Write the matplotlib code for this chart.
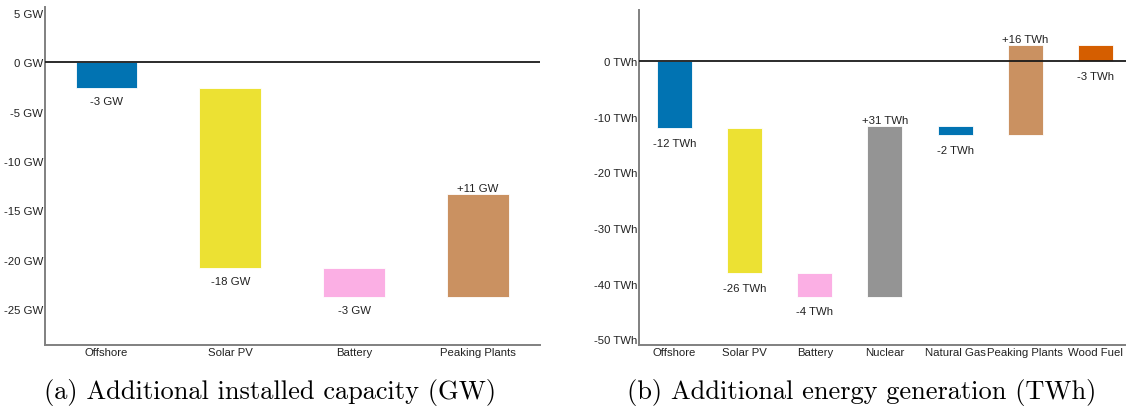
import matplotlib
matplotlib.use("Agg")
import matplotlib.pyplot as plt
import numpy as np

# ---------------- data ----------------
cap_categories = ["Offshore", "Solar PV", "Battery", "Peaking Plants"]
cap_changes = [-2.6, -18.2, -3.0, 10.5]
cap_labels = ["-3 GW", "-18 GW", "-3 GW", "+11 GW"]
cap_colors = ["#0173B2", "#ECE133", "#FBAFE4", "#CA9161"]
cap_yticks = [5, 0, -5, -10, -15, -20, -25]
cap_yticklabels = ["5 GW", "0 GW", "-5 GW", "-10 GW", "-15 GW", "-20 GW", "-25 GW"]

gen_categories = ["Offshore", "Solar PV", "Battery", "Nuclear", "Natural Gas",
                  "Peaking Plants", "Wood Fuel"]
gen_changes = [-12.1, -26.0, -4.3, 30.7, -1.6, 16.2, -2.9]
gen_labels = ["-12 TWh", "-26 TWh", "-4 TWh", "+31 TWh", "-2 TWh", "+16 TWh", "-3 TWh"]
gen_colors = ["#0173B2", "#ECE133", "#FBAFE4", "#949494", "#0173B2", "#CA9161", "#D55E00"]
gen_yticks = [0, -10, -20, -30, -40, -50]
gen_yticklabels = ["0 TWh", "-10 TWh", "-20 TWh", "-30 TWh", "-40 TWh", "-50 TWh"]

captions = ["(a) Additional installed capacity (GW)",
            "(b) Additional energy generation (TWh)"]

plt.rcParams['font.family'] = ['Liberation Sans', 'DejaVu Sans']

W, H = 1126, 410
fig = plt.figure(figsize=(W / 100, H / 100), dpi=100)


def box(x0, x1, ytop, ybot):
    return [x0 / W, 1 - ybot / H, (x1 - x0) / W, (ybot - ytop) / H]


ax1 = fig.add_axes(box(44.6, 540.0, 8.3, 345.7))
ax2 = fig.add_axes(box(639.4, 1130.5, 11.0, 345.7))


def waterfall(ax, cats, changes, labels, colors, yticks, yticklabels, ylim, xlim,
              neg_off, pos_off):
    changes = np.array(changes, dtype=float)
    ends = np.cumsum(changes)
    starts = ends - changes
    x = np.arange(len(cats))
    ax.bar(x, changes, bottom=starts, width=0.5, color=colors,
           edgecolor="white", linewidth=0.6, zorder=2)
    ax.axhline(0, color="#1a1a1a", linewidth=1.3, zorder=3)
    for xi, ch, en, lab in zip(x, changes, ends, labels):
        if ch < 0:
            ax.annotate(lab, (xi, en), xytext=(0, -neg_off), textcoords="offset pixels",
                        ha="center", va="baseline", fontsize=8.2, color="#222222")
        else:
            ax.annotate(lab, (xi, en), xytext=(0, pos_off), textcoords="offset pixels",
                        ha="center", va="baseline", fontsize=8.2, color="#222222")
    ax.set_xlim(*xlim)
    ax.set_ylim(*ylim)
    ax.set_xticks(x)
    ax.set_xticklabels(cats, fontsize=8.2, color="#222222")
    ax.set_yticks(yticks)
    ax.set_yticklabels(yticklabels, fontsize=8.2, color="#222222")
    ax.tick_params(axis="both", length=0)
    ax.tick_params(axis="y", pad=1.2)
    ax.tick_params(axis="x", pad=1.5)
    for s in ("top", "right"):
        ax.spines[s].set_visible(False)
    for s in ("left", "bottom"):
        ax.spines[s].set_color("#808080")
        ax.spines[s].set_linewidth(1.4)
    ax.set_facecolor("white")


waterfall(ax1, cap_categories, cap_changes, cap_labels, cap_colors,
          cap_yticks, cap_yticklabels, (-28.62, 5.58), (-0.5, 3.5), 16.0, 2.3)
waterfall(ax2, gen_categories, gen_changes, gen_labels, gen_colors,
          gen_yticks, gen_yticklabels, (-51.0, 9.17), (-0.5, 6.5), 17.6, 2.8)

fig.text(44.3 / W, 1 - 399 / H, captions[0], fontfamily="cmr10", fontsize=19,
         ha="left", va="baseline", color="black")
fig.text(627 / W, 1 - 399 / H, captions[1], fontfamily="cmr10", fontsize=19,
         ha="left", va="baseline", color="black")

fig.savefig("out.png", dpi=100, facecolor="white")
